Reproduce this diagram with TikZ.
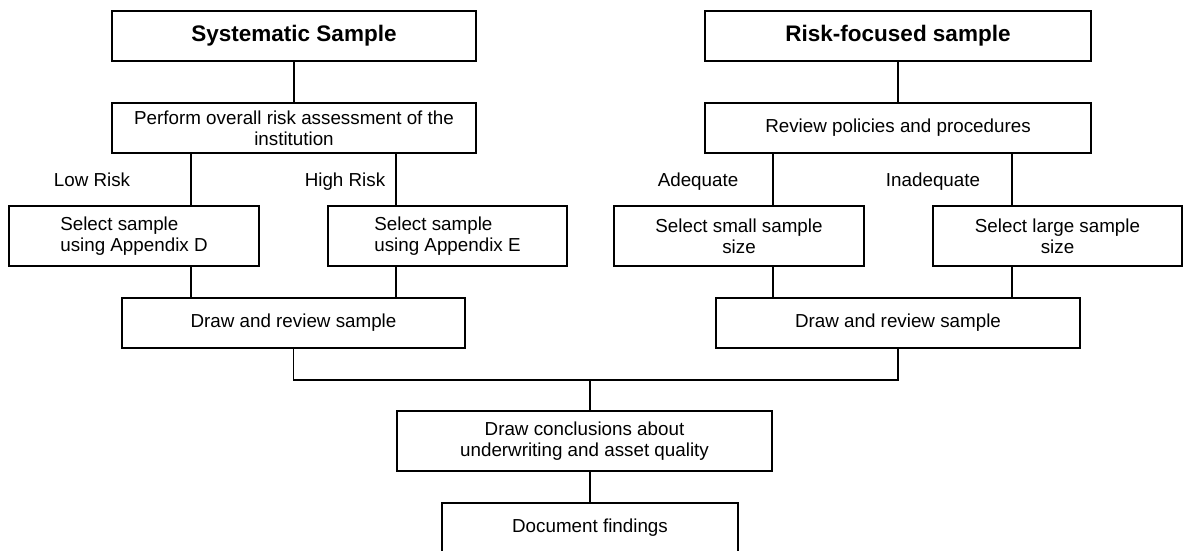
\documentclass[tikz,border=0pt]{standalone}
\usepackage{fontspec}
\setmainfont{Liberation Sans}
\usepackage{tikz}
\usetikzlibrary{calc}

\tikzset{
	box/.style={draw, line width=1.3pt, inner sep=0pt, align=center, font=\fontsize{18.8}{21}\selectfont},
	titlebox/.style={box, font=\fontsize{22.5}{26}\selectfont\bfseries},
	lbl/.style={inner sep=0pt, anchor=base, font=\fontsize{18.8}{21}\selectfont},
	link/.style={line width=1.3pt}
}

\begin{document}
\begin{tikzpicture}[x=1pt, y=-1pt]
		%%%%% START %%%%%
		\useasboundingbox (0, 0) rectangle (1183, 551);
		
		\node[titlebox, minimum width=364pt, minimum height=50pt] (ss) at (294, 36) {Systematic Sample};
		\node[titlebox, minimum width=386pt, minimum height=50pt] (rf) at (898, 36) {Risk-focused sample};
		
		\node[box, minimum width=364pt, minimum height=50pt] (perf) at (294, 128) {Perform overall risk assessment of the\\institution};
		\node[box, minimum width=386pt, minimum height=50pt] (rev) at (898, 128) {Review policies and procedures};
		
		\node[lbl] (low) at (92, 186) {Low Risk};
		\node[lbl] (high) at (345, 186) {High Risk};
		\node[lbl] (adq) at (698, 186) {Adequate};
		\node[lbl] (inadq) at (933, 186) {Inadequate};
		
		\node[box, align=left, minimum width=250pt, minimum height=60pt] (seld) at (134, 236) {Select sample\\using Appendix D};
		\node[box, align=left, minimum width=239pt, minimum height=60pt] (sele) at (447.5, 236) {Select sample\\using Appendix E};
		\node[box, minimum width=250pt, minimum height=60pt] (selsm) at (739, 236) {Select small sample\\size};
		\node[box, minimum width=249pt, minimum height=60pt] (sellg) at (1057.5, 236) {Select large sample\\size};
		
		\node[box, minimum width=343pt, minimum height=50pt] (drl) at (293.5, 323) {Draw and review sample};
		\node[box, minimum width=364pt, minimum height=50pt] (drr) at (898, 323) {Draw and review sample};
		
		\node[box, minimum width=375pt, minimum height=60pt] (concl) at (584.5, 441) {Draw conclusions about\\underwriting and asset quality};
		\node[box, minimum width=296pt, minimum height=50pt] (find) at (590, 528) {Document findings};
		
		\coordinate (lowx) at (191, 0);
		\coordinate (highx) at (396, 0);
		\coordinate (adqx) at (773, 0);
		\coordinate (inadqx) at (1012, 0);
		\coordinate (join) at (590, 380);
		
		\draw[link] (ss) -- (perf);
		\draw[link] (rf) -- (rev);
		
		\draw[link] (perf.south -| lowx) -- (seld.north -| lowx);
		\draw[link] (perf.south -| highx) -- (sele.north -| highx);
		\draw[link] (rev.south -| adqx) -- (selsm.north -| adqx);
		\draw[link] (rev.south -| inadqx) -- (sellg.north -| inadqx);
		
		\draw[link] (seld.south -| lowx) -- (drl.north -| lowx);
		\draw[link] (sele.south -| highx) -- (drl.north -| highx);
		\draw[link] (selsm.south -| adqx) -- (drr.north -| adqx);
		\draw[link] (sellg.south -| inadqx) -- (drr.north -| inadqx);
		
		\draw[link] (drl.south) -- (drl.south |- join) -- (drr.south |- join) -- (drr.south);
		\draw[link] (join) -- (join |- concl.north);
		\draw[link] (concl.south -| find.north) -- (find.north);
		%%%%% END %%%%%
\end{tikzpicture}
\end{document}
